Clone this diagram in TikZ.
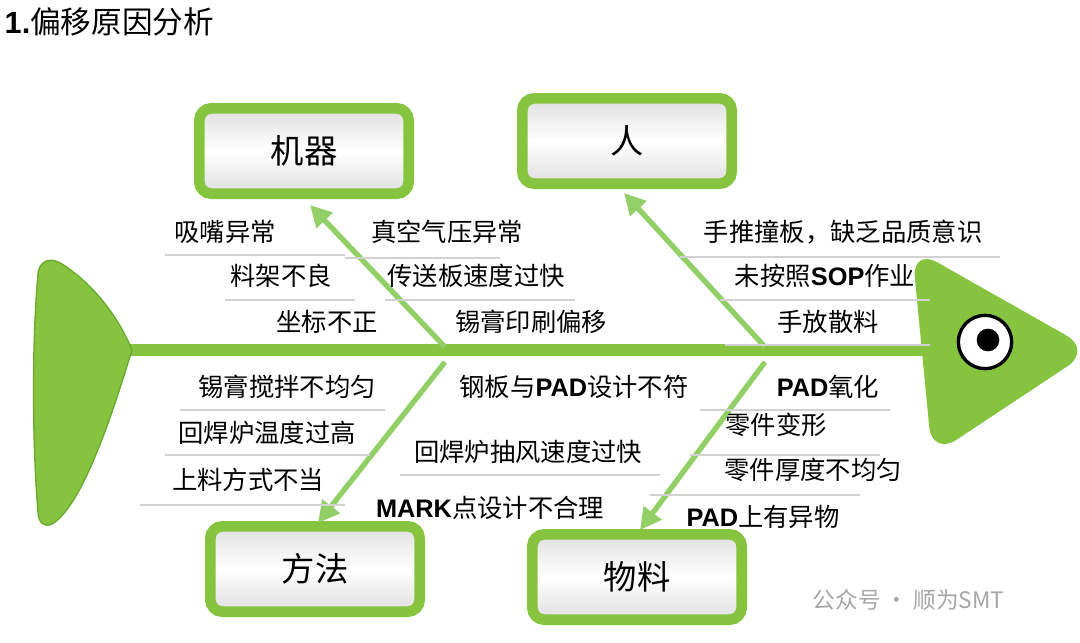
\documentclass[tikz,border=0pt]{standalone}
\usepackage{fontspec}
\setmainfont{Noto Sans CJK SC}
\newfontfamily\latf{Liberation Sans}
\usetikzlibrary{arrows.meta}
\definecolor{fg}{HTML}{86C440}
\definecolor{fgd}{HTML}{5E9E28}
\definecolor{arr}{HTML}{92CF66}
\newcommand{\lat}[1]{{\latf\bfseries #1}}
\begin{document}
\begin{tikzpicture}[x=0.75pt,y=-0.75pt,
  lab/.style={font=\fontsize{19}{19}\selectfont, anchor=center, inner sep=0pt},
  uline/.style={draw=gray!35, line width=1.5pt},
  box/.style={draw=fg, line width=8pt, rounded corners=9pt, minimum width=157pt, minimum height=64pt,
     top color=gray!25, bottom color=gray!25, middle color=white, font=\fontsize{25}{25}\selectfont},
  bone/.style={draw=arr, line width=4pt, -{Triangle[length=16pt,width=16pt]}}]
\useasboundingbox (0,0) rectangle (1080,642);
\node[anchor=west, font=\fontsize{23}{23}\selectfont] (title) at (0,22) {\lat{1.}偏移原因分析};
% spine
\draw[fg, line width=9pt] (120,350) -- (935,350);
% tail
\fill[fg, draw=fgd!70!fg, line width=1pt] (42,264) .. controls (48,258) and (56,260) .. (62,264) .. controls (95,285) and (120,320) .. (132,350) .. controls (118,395) and (85,505) .. (52,524) .. controls (44,528) and (38,522) .. (38,512) .. controls (32,440) and (32,340) .. (38,274) .. controls (38,270) and (40,266) .. (42,264) -- cycle;
% head
\fill[fg, rounded corners=22pt] (912,248) -- (1092,350) -- (932,456) -- cycle;
\node[circle, draw=black, line width=2.5pt, fill=white, minimum size=40pt, inner sep=0pt] (eye) at (985,342) {};
\node[circle, fill=black, minimum size=17pt, inner sep=0pt] (pupil) at (988,340) {};
% boxes
\node[box] (m1) at (304,151) {机器};
\node[box] (m2) at (627,141) {人};
\node[box] (m3) at (315,569) {方法};
\node[box] (m4) at (637,577) {物料};
% spine points
\coordinate (s1) at (445,347);
\coordinate (s2) at (765,347);
\coordinate (s3) at (445,362);
\coordinate (s4) at (765,362);
\draw[bone] (s1) -- (310,205);
\draw[bone] (s2) -- (624,193);
\draw[bone] (s3) -- (318,523);
\draw[bone] (s4) -- (640,530);
% underlines
\foreach \a/\b/\y in {165/345/255, 345/500/258, 225/355/300, 385/575/300,
   680/1000/257, 720/930/300, 725/930/345,
   180/385/410, 165/370/455, 140/345/505, 400/660/475,
   700/890/410, 690/880/455, 650/860/495}
  \draw[uline] (\a,\y) -- (\b,\y);
% labels
\node[lab] (a1) at (225,232) {吸嘴异常};
\node[lab] (a2) at (447,232) {真空气压异常};
\node[lab] (a3) at (281,276) {料架不良};
\node[lab] (a4) at (476,276) {传送板速度过快};
\node[lab] (a5) at (327,322) {坐标不正};
\node[lab] (a6) at (531,322) {锡膏印刷偏移};
\node[lab] (b1) at (843,232) {手推撞板，缺乏品质意识};
\node[lab] (b2) at (825,276) {未按照\lat{SOP}作业};
\node[lab] (b3) at (828,322) {手放散料};
\node[lab] (c1) at (287,387) {锡膏搅拌不均匀};
\node[lab] (c2) at (574,387) {钢板与\lat{PAD}设计不符};
\node[lab] (c3) at (267,433) {回焊炉温度过高};
\node[lab] (c4) at (528,452) {回焊炉抽风速度过快};
\node[lab] (c5) at (248,480) {上料方式不当};
\node[lab] (c6) at (490,508) {\lat{MARK}点设计不合理};
\node[lab] (d1) at (828,387) {\lat{PAD}氧化};
\node[lab] (d2) at (776,425) {零件变形};
\node[lab] (d3) at (813,470) {零件厚度不均匀};
\node[lab] (d4) at (763,517) {\lat{PAD}上有异物};
\node[anchor=west, text=gray!70, font=\fontsize{17}{17}\selectfont] (wm) at (808,600) {公众号 · 顺为SMT};
\end{tikzpicture}
\end{document}
